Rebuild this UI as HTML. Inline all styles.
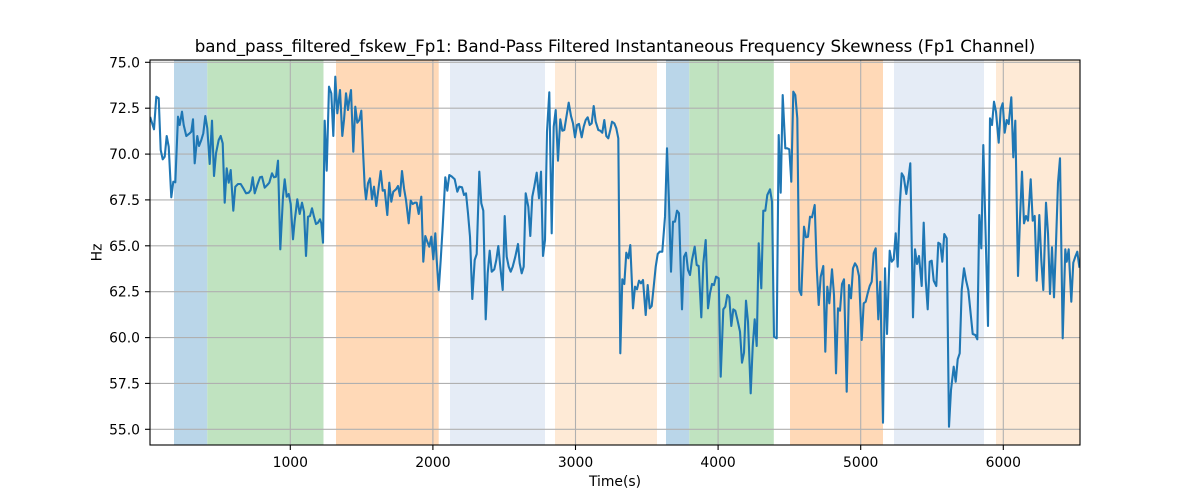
<!DOCTYPE html>
<html><head><meta charset="utf-8"><style>
html,body{margin:0;padding:0;background:#fff;}
svg{display:block;}
text{font-family:"DejaVu Sans","Liberation Sans",sans-serif;fill:#000;}
</style></head><body>
<svg width="1200" height="500" viewBox="0 0 1200 500" xmlns="http://www.w3.org/2000/svg">
<defs><clipPath id="ax"><rect x="150" y="60" width="930" height="385"/></clipPath></defs>
<rect x="0" y="0" width="1200" height="500" fill="#fff"/>
<g>
<rect x="174" y="60" width="33.3" height="385" fill="#bad6e9"/>
<rect x="207.3" y="60" width="116.2" height="385" fill="#c0e3c0"/>
<rect x="336" y="60" width="102.7" height="385" fill="#ffd9b7"/>
<rect x="450" y="60" width="95" height="385" fill="#e5ecf6"/>
<rect x="555" y="60" width="102" height="385" fill="#feead6"/>
<rect x="666" y="60" width="23.3" height="385" fill="#bad6e9"/>
<rect x="689.3" y="60" width="84.5" height="385" fill="#c0e3c0"/>
<rect x="790" y="60" width="93" height="385" fill="#ffd9b7"/>
<rect x="894" y="60" width="90" height="385" fill="#e5ecf6"/>
<rect x="996" y="60" width="84" height="385" fill="#feead6"/>
</g>
<g stroke="#b0b0b0" stroke-width="1.1">
<line x1="290.3" y1="60" x2="290.3" y2="445"/>
<line x1="432.9" y1="60" x2="432.9" y2="445"/>
<line x1="575.5" y1="60" x2="575.5" y2="445"/>
<line x1="718.1" y1="60" x2="718.1" y2="445"/>
<line x1="860.7" y1="60" x2="860.7" y2="445"/>
<line x1="1003.3" y1="60" x2="1003.3" y2="445"/>
<line x1="150" y1="429.3" x2="1080" y2="429.3"/>
<line x1="150" y1="383.4" x2="1080" y2="383.4"/>
<line x1="150" y1="337.6" x2="1080" y2="337.6"/>
<line x1="150" y1="291.7" x2="1080" y2="291.7"/>
<line x1="150" y1="245.8" x2="1080" y2="245.8"/>
<line x1="150" y1="199.9" x2="1080" y2="199.9"/>
<line x1="150" y1="154.1" x2="1080" y2="154.1"/>
<line x1="150" y1="108.2" x2="1080" y2="108.2"/>
<line x1="150" y1="62.3" x2="1080" y2="62.3"/>
</g>
<polyline clip-path="url(#ax)" fill="none" stroke="#1f77b4" stroke-width="2.1" stroke-linejoin="round" stroke-linecap="square" points="
150.5,118 154,129.3 156.3,96.7 158.7,98.3 160.7,150 162.7,159.3 164.7,156.7 166.7,136 168.7,146.7 171.3,197.3 173.3,181.7 175.3,182.3 178,116.7 179.7,125 182,111.7 183.7,125 186.3,136 189.7,133.3 191.3,131.7 193,119.3 194.7,163.3 197.3,136 199,146 201.3,140 203.3,133.3 205.3,116 207.3,128.3 209.7,164 212,120.7 214,176 216,153.3 218.7,140 220.7,136 222.7,143.3 224.7,202.7 226.7,168.3 228.7,182.7 230.7,170 233.3,210.7 235.3,186.7 238,184 240.7,184 243.3,188.3 246,193.3 248.7,192.7 250.7,190 252.7,177.3 254.7,193.3 257.3,185 260,177.3 262,176.7 264.7,187.7 267.3,185 269.3,182.7 272,173.3 274,177.3 276,176.7 278,160.7 280.3,249.3 283,196.7 284.7,179.3 286.7,196.7 288.7,194 290.7,204 293,239.3 294.7,220.7 297.3,199.3 299.7,214 302,202.7 304,211.7 306,256 308,216.7 310,216 312,208.3 314,216.7 316,224 318,222.7 320,219.3 321.3,223.3 323,242.7 324.7,120.7 326.7,170.7 329,86.7 331.3,93.3 333.3,136 335.3,76.7 337.3,113.3 340,90 342.3,136 344,120 346,93.3 348,110 349.3,100 351,90 353.3,151.7 355.3,106.7 357.3,122.7 359.3,120 361.3,110.7 363.3,156.7 364.7,186.7 366,199.3 368,183.3 370,178.3 372,199.3 374,186.7 376.3,206 378.7,186.7 380.7,171 382.7,190.7 384.7,190 387.3,215 389.3,182.7 391.3,201.7 393.3,191.7 396,189.3 398,186 400,196 402,171 404,188.3 406,200 408.7,223.3 410.7,200.7 412.7,204 414.7,202.7 416.7,202.7 418.7,214 421.3,196.7 423.3,261.7 425.3,236 427.3,241.7 429.3,246.7 431.3,236.7 433.3,259.3 435.3,233.3 436.7,260 438.7,290 440.7,260 442.7,226.7 445.3,177.3 447.3,190.7 449.3,175 452,176.7 454.7,179.3 457.3,191.7 459.3,186.7 462,187.3 464,195 466,193.3 468,213.3 470,236.7 472.3,299 474.7,260 476.7,254 479.3,171.7 481.3,203.3 483.3,210.7 485.7,319.3 487.7,273.3 489.7,250.7 491.7,271.7 494.3,269.3 496.3,260 498.3,246 500.3,266.7 502.7,290 504.7,216 506.7,256.7 508.7,266.7 510.7,271.7 512.7,266.7 515.3,256.7 518,244 519.7,263.3 521.7,273.3 523.7,266.7 525.7,193.3 528.3,206.7 530.3,236 532.3,196.7 534.3,186.7 536.7,172.7 539,198.3 541,171.7 543,256 545,240 547,131.7 549.3,92.3 551.7,233.3 553.7,126.7 555.7,110 558,160.7 560.3,119.3 562.3,130.7 564.3,130 566.7,115 568.7,102.7 571,116 573,123.3 575,137.3 577,125 579,124 581.7,137.3 583.7,126.7 585.7,120 587.7,117.3 589.7,125 591.7,123.3 593.7,106 595.7,121.7 598.3,130 600.3,130.7 602.3,132.7 604.3,120 606.3,136 608.3,138.3 610.3,130 612,121.7 614.3,123.3 616.3,128.3 618.3,138.3 620.3,353.3 622.3,279.3 624.3,284 626.3,252.7 628.3,258.3 630.3,245 633,308.3 635,286.7 637,289.3 639,280.7 641,283.3 643,280 645.7,315 647.7,285 649.7,308.3 651.7,306 653.7,286.7 655.7,266.7 657.7,254 659.7,251.7 662.3,251.7 665,216.7 667,148.3 669,203.3 671,271.7 673,221.7 675,221.7 677,210.7 679,213.3 682,309.3 684,256.7 686,252.7 688,270 690,275 692,260 694.7,246.7 696.7,265 698.7,266 701.3,317.3 703.3,263.3 705.7,240 708,308.3 710,293.3 712,284 714,285 716,276.7 718.7,278.3 720.7,376.7 723.3,309.3 725.3,306.7 727.3,295 729.3,297.3 731.3,326 733.3,309.3 735.3,310.7 737.3,319.3 740,331.7 742,362.7 744,352.7 746,300.7 748,321.7 750.7,393.3 752.7,346.7 754.7,319.3 756.7,346 758.7,243.3 761.3,288.3 763.3,210.7 765.3,210.7 767.3,195 770,189.3 772,201.7 774,336.7 776.7,338.3 778.7,135 780.7,192.7 782.7,95 785.3,148.3 787.3,148.3 789.3,149.3 791.3,181.7 793.3,91.7 795.3,95 797.3,118.3 799.3,290 801.3,295 804,226.7 806,237.3 808,236.7 810,216.7 812,217.3 814.7,205 816.7,266.7 818.7,305 820.7,276.7 823.3,266 825.3,351.7 827.3,286.7 829.3,303.3 832,269.3 834,295 836,373.3 838,308.3 840,310.7 842,284 844,279.3 846.7,391.7 849,285 851,298.3 853,268.3 855,263.3 857,266.7 859,276 861.7,340 863.7,303.3 865.7,301.7 867.7,293.3 869.7,286 871.7,281.7 873.7,253.3 875.7,248.3 878.3,319.3 880.3,281.7 883,422.7 885,268.3 887,334 889.7,250.7 891.7,261.7 893.7,259.3 895.7,233.3 897.7,266.7 899.7,206.7 901.7,173.3 903.7,176.7 906.3,194 908.3,180 910.3,163.3 913,317.3 915,249.3 917,264 919,256 921.7,286 923.7,222.7 925.7,280 927.7,309.3 929.7,261.7 931.7,260.7 933.7,280.7 936.3,286 938.3,242.7 940.3,244 942.3,261.7 944.3,234 946.7,238.3 949,426.7 951,390 953.7,366.7 955.7,381.7 957.7,359.3 959.7,353.3 961.7,290 964,268.3 966,280 968.3,290 972.7,334 975.3,335 977.3,339.3 979.3,215 981.3,248.3 983.3,145 988,326 990,118.3 992,125 994,101.7 996,111.7 998.7,142.7 1000.7,109.3 1002.7,103.3 1004.7,132.7 1006.7,120 1008.7,124 1011.3,97.3 1013.3,157.3 1015.3,120.7 1018,276 1020,218.3 1022,171.7 1024,223.3 1026,216 1028,220.7 1030.7,179.3 1032.7,220.7 1034.7,216 1036.7,280.7 1039.3,215 1041.3,260 1043.3,290 1046,202.7 1048,233.3 1050,294 1052,247.3 1054,297.3 1056,243.3 1058,182.7 1060,158.3 1062.7,338.3 1065.3,249.3 1066.7,261.7 1068.7,249.3 1071.3,301.7 1073.3,262.7 1075.3,256.7 1077.3,251.7 1079.3,266.7"/>
<rect x="150" y="60" width="930" height="385" fill="none" stroke="#000" stroke-width="1.1"/>
<g stroke="#000" stroke-width="1.1">
<line x1="290.3" y1="445" x2="290.3" y2="450"/>
<line x1="432.9" y1="445" x2="432.9" y2="450"/>
<line x1="575.5" y1="445" x2="575.5" y2="450"/>
<line x1="718.1" y1="445" x2="718.1" y2="450"/>
<line x1="860.7" y1="445" x2="860.7" y2="450"/>
<line x1="1003.3" y1="445" x2="1003.3" y2="450"/>
<line x1="145" y1="429.3" x2="150" y2="429.3"/>
<line x1="145" y1="383.4" x2="150" y2="383.4"/>
<line x1="145" y1="337.6" x2="150" y2="337.6"/>
<line x1="145" y1="291.7" x2="150" y2="291.7"/>
<line x1="145" y1="245.8" x2="150" y2="245.8"/>
<line x1="145" y1="199.9" x2="150" y2="199.9"/>
<line x1="145" y1="154.1" x2="150" y2="154.1"/>
<line x1="145" y1="108.2" x2="150" y2="108.2"/>
<line x1="145" y1="62.3" x2="150" y2="62.3"/>
</g>
<g font-size="13.9" text-anchor="middle">
<text x="290.3" y="467">1000</text>
<text x="432.9" y="467">2000</text>
<text x="575.5" y="467">3000</text>
<text x="718.1" y="467">4000</text>
<text x="860.7" y="467">5000</text>
<text x="1003.3" y="467">6000</text>
</g>
<g font-size="13.9" text-anchor="end">
<text x="140" y="434.3">55.0</text>
<text x="140" y="388.4">57.5</text>
<text x="140" y="342.6">60.0</text>
<text x="140" y="296.7">62.5</text>
<text x="140" y="250.8">65.0</text>
<text x="140" y="204.9">67.5</text>
<text x="140" y="159.1">70.0</text>
<text x="140" y="113.2">72.5</text>
<text x="140" y="67.3">75.0</text>
</g>
<text x="615" y="486" font-size="13.9" text-anchor="middle">Time(s)</text>
<text x="0" y="0" font-size="13.9" text-anchor="middle" transform="translate(101.5,252.5) rotate(-90)">Hz</text>
<text x="615" y="52" font-size="16.7" text-anchor="middle">band_pass_filtered_fskew_Fp1: Band-Pass Filtered Instantaneous Frequency Skewness (Fp1 Channel)</text>
</svg>
</body></html>
